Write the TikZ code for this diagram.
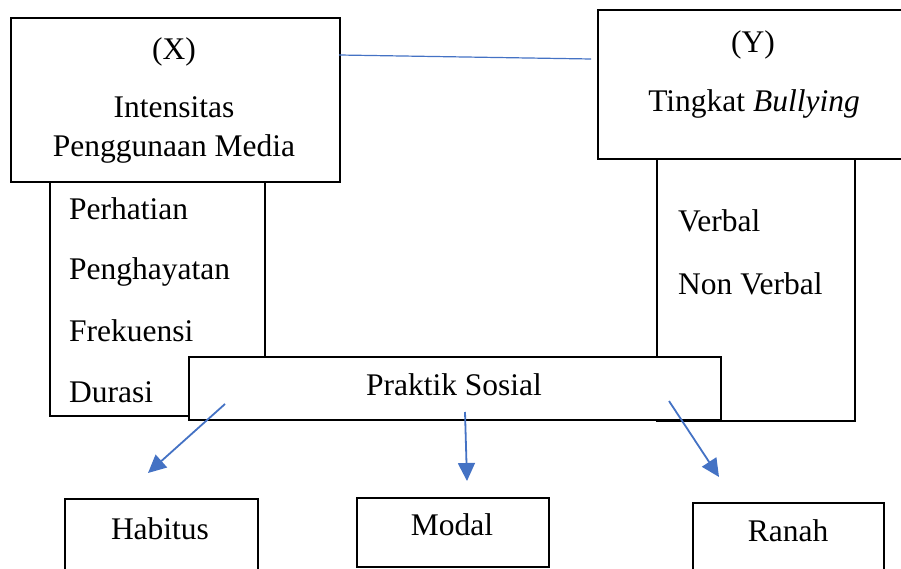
\documentclass[tikz,border=0pt]{standalone}
\usepackage{fontspec}
\setmainfont{Liberation Serif}
\usetikzlibrary{arrows.meta}
\definecolor{arrowblue}{HTML}{4472C4}
\tikzset{
  box/.style={draw=black, line width=2pt, fill=white, inner sep=0pt, anchor=north west},
  lbl/.style={font=\fontsize{31.5}{37}\selectfont, inner sep=0pt, anchor=base},
  lbll/.style={lbl, anchor=base west},
  blueline/.style={draw=arrowblue, line width=1.2pt},
  bluearrow/.style={draw=arrowblue, line width=1.8pt, -{Triangle[length=18pt,width=17pt]}, color=arrowblue},
}
\begin{document}
\begin{tikzpicture}[x=1pt,y=-1pt]
\useasboundingbox (0,0) rectangle (901,569);
\clip (0,0) rectangle (901,569);
% left sub-box and right sub-box (behind)
\node[box, minimum width=215pt, minimum height=234pt] (xsub) at (49,181) {};
\node[box, minimum width=198pt, minimum height=262pt] (ysub) at (656,158) {};
% main boxes
\node[box, minimum width=329pt, minimum height=164pt] (xbox) at (10,17) {};
\node[box, minimum width=312pt, minimum height=149pt] (ybox) at (597,9) {};
% Praktik Sosial box
\node[box, minimum width=532pt, minimum height=63pt] (praktik) at (188,356) {};
% bottom boxes
\node[box, minimum width=193pt, minimum height=90pt] (habitus) at (64,498) {};
\node[box, minimum width=192pt, minimum height=69pt] (modal) at (356,497) {};
\node[box, minimum width=191pt, minimum height=90pt] (ranah) at (692,502) {};
% texts
\node[lbl] (tx) at (174,60) {(X)};
\node[lbl] (tx1) at (174,118) {Intensitas};
\node[lbl] (tx2) at (174,157) {Penggunaan Media};
\node[lbl] (ty) at (753,53) {(Y)};
\node[lbl] (ty1) at (754,112) {Tingkat \textit{Bullying}};
\node[lbll] (p1) at (69,219) {Perhatian};
\node[lbll] (p2) at (69,279) {Penghayatan};
\node[lbll] (p3) at (69,341) {Frekuensi};
\node[lbll] (p4) at (69,402) {Durasi};
\node[lbll] (v1) at (678,231) {Verbal};
\node[lbll] (v2) at (678,294) {Non Verbal};
\node[lbl] (tp) at (454,395) {Praktik Sosial};
\node[lbl] (th) at (160,539) {Habitus};
\node[lbl] (tm) at (452,535) {Modal};
\node[lbl] (tr) at (788,541) {Ranah};
% connectors
\coordinate (xy1) at (339,55);
\coordinate (xy2) at (591,59);
\draw[blueline] (xy1) -- (xy2);
\coordinate (a1s) at (225,404);
\coordinate (a1e) at (148,473);
\coordinate (a2s) at (465,412);
\coordinate (a2e) at (467,481);
\coordinate (a3s) at (669,401);
\coordinate (a3e) at (719,477);
\draw[bluearrow] (a1s) -- (a1e);
\draw[bluearrow] (a2s) -- (a2e);
\draw[bluearrow] (a3s) -- (a3e);
\end{tikzpicture}
\end{document}
